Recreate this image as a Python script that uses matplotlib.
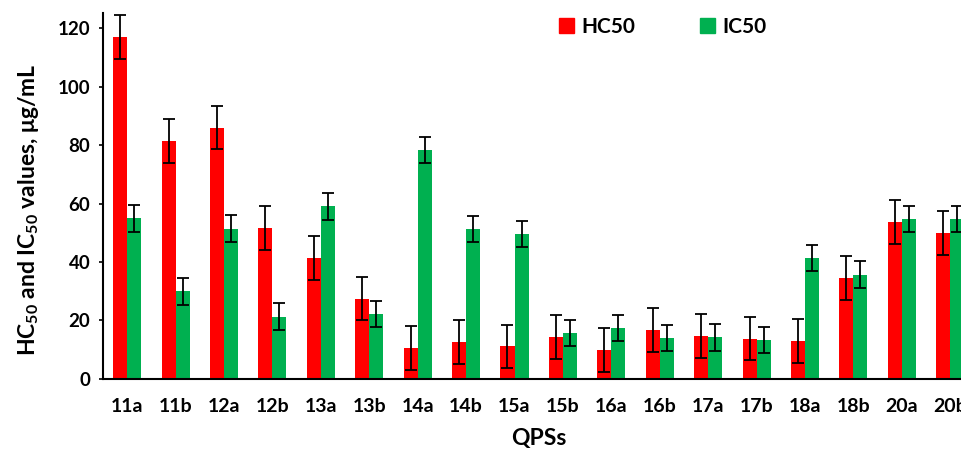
import matplotlib
matplotlib.use("Agg")
import matplotlib.pyplot as plt
import numpy as np
from matplotlib.patches import Patch

RED, GREEN = "#FF0000", "#00B050"
plt.rcParams["font.family"] = ["Lato", "DejaVu Sans"]
plt.rcParams["font.weight"] = "bold"
plt.rcParams["mathtext.fontset"] = "custom"
plt.rcParams["mathtext.rm"] = "Lato"
plt.rcParams["mathtext.bf"] = "Lato:bold"

compounds = ["11a", "11b", "12a", "12b", "13a", "13b", "14a", "14b", "15a",
             "15b", "16a", "16b", "17a", "17b", "18a", "18b", "20a", "20b"]
hc50 = [117.0, 81.4, 86.0, 51.6, 41.4, 27.5, 10.5, 12.6, 11.1,
        14.4, 9.9, 16.6, 14.6, 13.8, 13.0, 34.5, 53.8, 49.9]
hc50_err = [7.5, 7.5, 7.5, 7.5, 7.5, 7.5, 7.5, 7.5, 7.5,
            7.5, 7.5, 7.5, 7.5, 7.5, 7.5, 7.5, 7.5, 7.5]
ic50 = [55.0, 29.9, 51.4, 21.3, 59.1, 22.2, 78.3, 51.2, 49.5,
        15.7, 17.5, 14.0, 14.2, 13.2, 41.4, 35.7, 54.6, 54.6]
ic50_err = [4.6, 4.6, 4.6, 4.5, 4.6, 4.5, 4.6, 4.5, 4.5,
            4.5, 4.5, 4.5, 4.6, 4.5, 4.5, 4.6, 4.5, 4.5]

fig = plt.figure(figsize=(9.62, 4.5), dpi=100)
# axes run slightly past the right edge, like the cropped original
ax = fig.add_axes([0.107, 0.158, 0.906, 0.812])

x = np.arange(len(compounds))
w = 0.29
err_kw = dict(ecolor="black", elinewidth=1.3, capsize=4.5, capthick=1.3)
ax.bar(x - w / 2, hc50, w, color=RED, yerr=hc50_err, error_kw=err_kw, zorder=2)
ax.bar(x + w / 2, ic50, w, color=GREEN, yerr=ic50_err, error_kw=err_kw, zorder=2)

ax.set_xlim(-0.5, len(compounds) - 0.5)
ax.set_ylim(0, 125)
ax.set_yticks(range(0, 121, 20))
ax.set_xticks(x)
ax.set_xticklabels(compounds)
ax.tick_params(axis="x", length=0, pad=14, labelsize=14)
ax.tick_params(axis="y", length=3, width=1.2, pad=6, labelsize=13.5)
for s in ("top", "right"):
    ax.spines[s].set_visible(False)
for s in ("left", "bottom"):
    ax.spines[s].set_linewidth(1.5)

ax.set_ylabel(r"HC$_{\mathbf{50}}$ and IC$_{\mathbf{50}}$ values, μg/mL",
              fontsize=16.5, fontweight="bold")
ax.yaxis.set_label_coords(-0.071, 0.462)
ax.set_xlabel("QPSs", fontsize=16.5, fontweight="bold", labelpad=9)

handles = [Patch(color=RED, label="HC50"), Patch(color=GREEN, label="IC50")]
fig.legend(handles=handles, loc="upper left", bbox_to_anchor=(0.581, 0.963),
           ncol=2, frameon=False, fontsize=15, handlelength=0.72, handleheight=0.72,
           handletextpad=0.35, columnspacing=3.1, borderpad=0, borderaxespad=0)

fig.savefig("out.png", dpi=100, facecolor="white")
